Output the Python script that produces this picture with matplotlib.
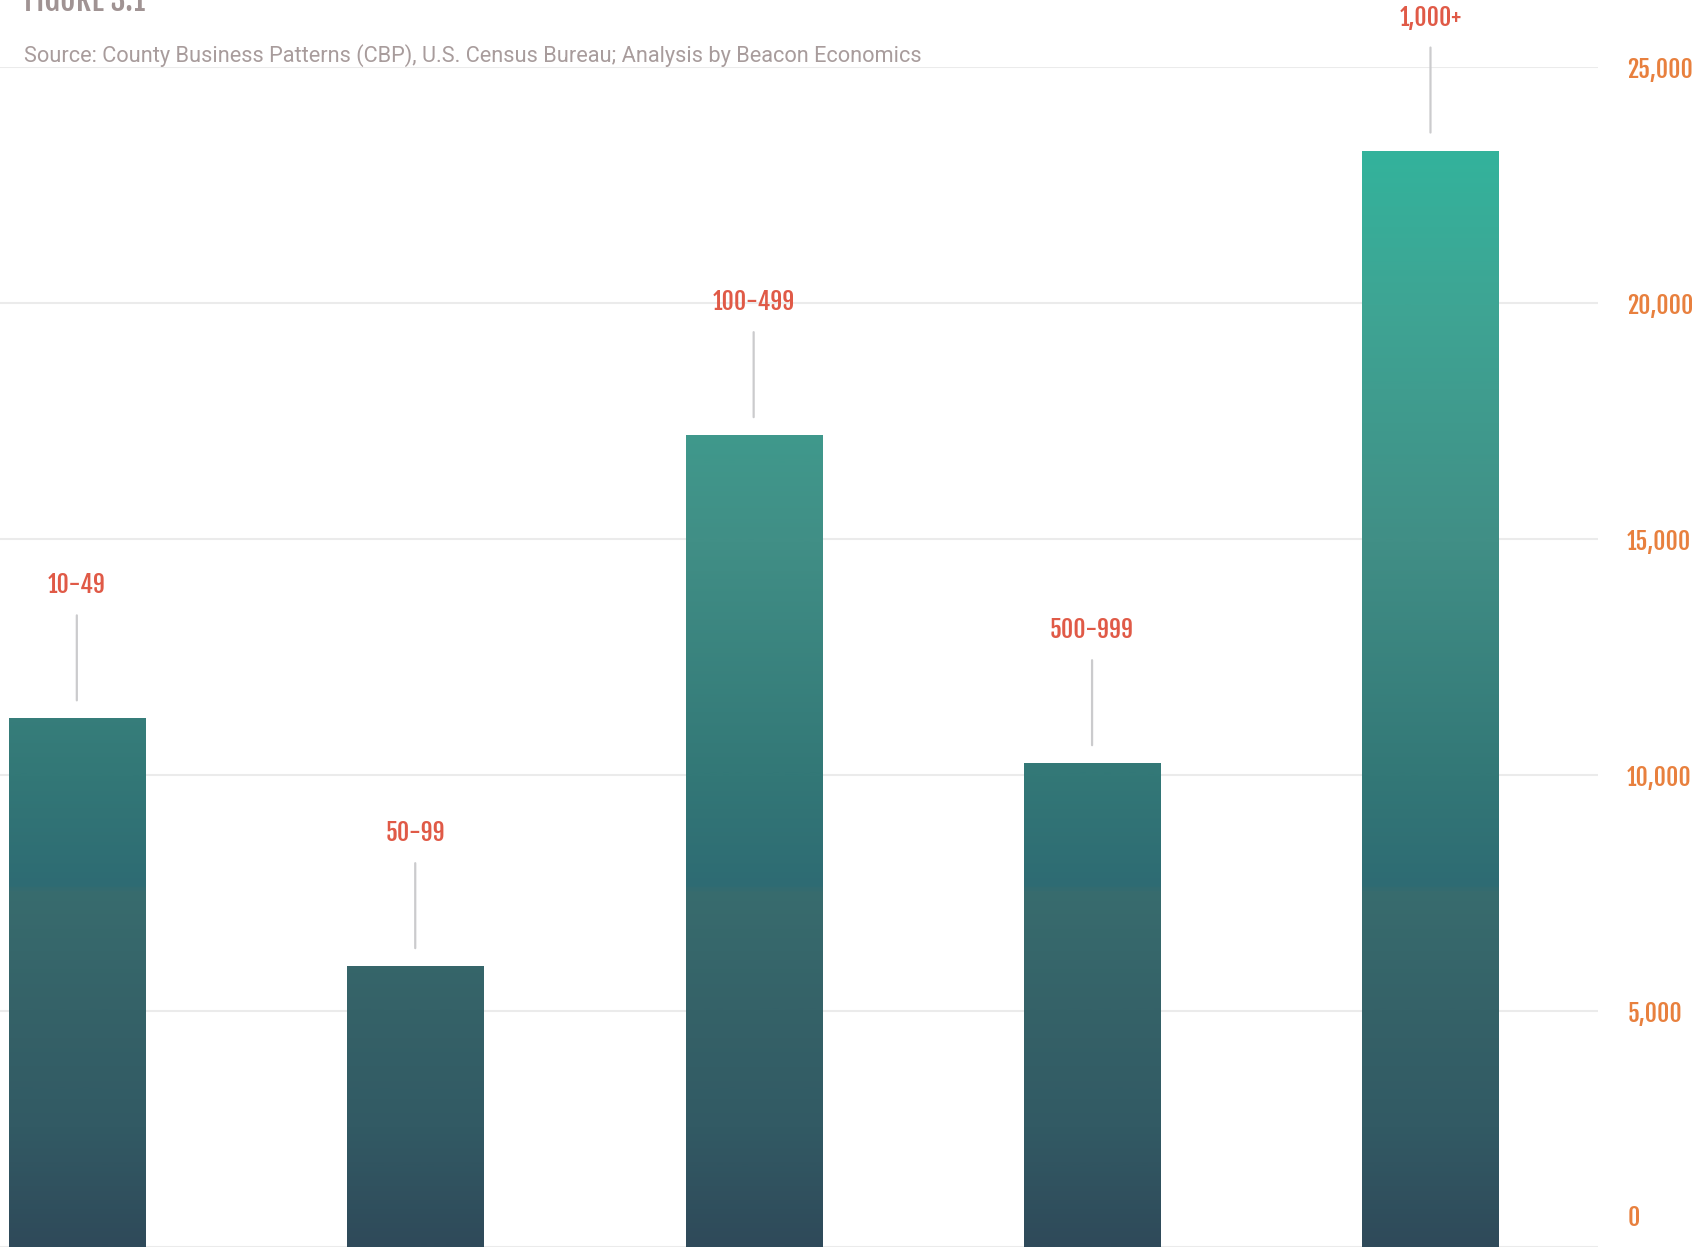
# Bars by establishment size, vertical gradient fill
import matplotlib.pyplot as plt
import numpy as np
from matplotlib.colors import LinearSegmentedColormap

# Data
sizes = ["10-49", "50-99", "100-499", "500-999", "1,000+"]
values = [11200, 5950, 17200, 10250, 23230]
yticks = [0, 5000, 10000, 15000, 20000, 25000]

# Colours
label_red = "#e05a47"
tick_orange = "#e8803e"
grey_text = "#a89c9c"
grid_col = "#ebebeb"
stem_col = "#cbcbcd"

# gradient stops (data value, colour) - jump near 7,550
ymax = 25000
stops = [(0, "#2f4a5a"), (2500, "#325a64"), (5000, "#356268"), (7540, "#386c6e"),
         (7560, "#2e6b73"), (10000, "#337877"), (15000, "#418f86"),
         (20000, "#3ea594"), (23300, "#33b39c"), (25000, "#32b79d")]
cmap = LinearSegmentedColormap.from_list("bars", [(v / ymax, c) for v, c in stops])

cond = ["Fjalla One", "Oswald", "DejaVu Sans"]

fig = plt.figure(figsize=(16.95, 12.48), dpi=100)
ax = fig.add_axes([0, 1 / 1248, 1598 / 1695, 1180 / 1248])

x = np.arange(len(sizes))
width = 0.4026
ax.set_xlim(-0.227, 4.495)
ax.set_ylim(0, ymax)

# grid
for t in yticks:
    ax.axhline(t, color=grid_col, lw=1.5, zorder=0)

grad = np.linspace(0, 1, 600).reshape(-1, 1)
bars = ax.bar(x, values, width=width, color="none", zorder=2)
for b in bars:
    im = ax.imshow(grad, cmap=cmap, origin="lower", aspect="auto",
                   extent=[-0.227, 4.495, 0, ymax], zorder=2, interpolation="bilinear")
    im.set_clip_path(b)

# stems + labels
for xi, v, s in zip(x, values, sizes):
    ax.annotate("", xy=(xi, v), xytext=(0, 103 * 0.72), textcoords="offset points",
                arrowprops=dict(arrowstyle="-", color=stem_col, lw=1.6,
                                shrinkA=0, shrinkB=18 * 0.72))
    ax.annotate(s, xy=(xi, v), xytext=(0, 133 * 0.72), textcoords="offset points",
                ha="center", va="center", color=label_red, fontsize=17,
                family=cond)

# tick labels on the right
for t in yticks:
    dy = 21 if t == 0 else -2
    ax.annotate(f"{t:,}", xy=(1, t), xycoords=("axes fraction", "data"),
                xytext=(21, dy), textcoords="offset points", ha="left", va="center",
                color=tick_orange, fontsize=17, family=cond,
                annotation_clip=False)

ax.set_xticks([])
ax.set_yticks([])
for sp in ax.spines.values():
    sp.set_visible(False)

fig.text(24 / 1695, 1 - 11 / 1248, "FIGURE 3.1", color="#a09393", fontsize=22,
         family=cond, va="baseline")
fig.text(24 / 1695, 1 - 56 / 1248,
         "Source: County Business Patterns (CBP), U.S. Census Bureau; Analysis by Beacon Economics",
         color=grey_text, fontsize=15.7, family=["Roboto", "DejaVu Sans"], va="center")

fig.savefig("out.png", dpi=100)
